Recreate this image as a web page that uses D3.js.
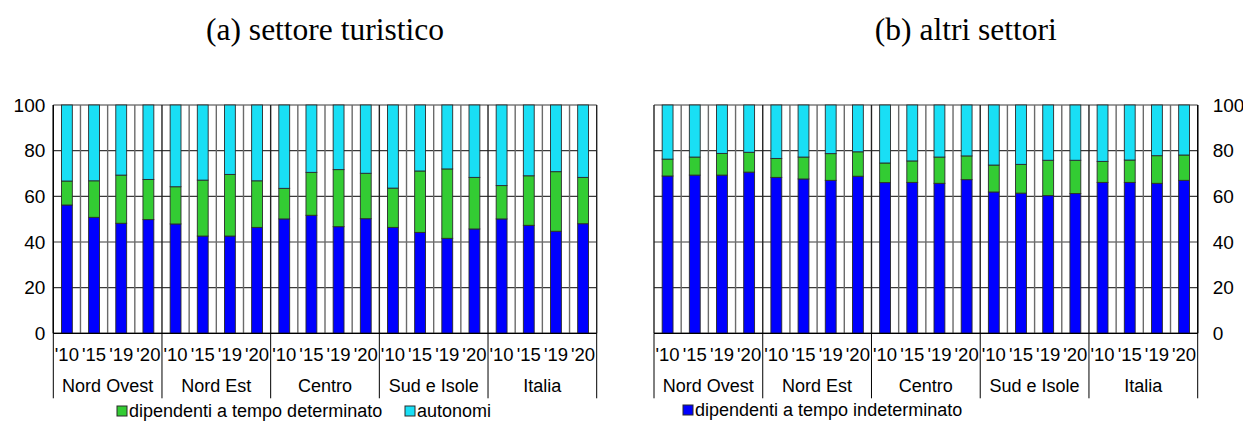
<!DOCTYPE html>
<html>
<head>
<meta charset="utf-8">
<script src="https://cdn.jsdelivr.net/npm/d3@7"></script>
<style>
  html, body { margin: 0; padding: 0; background: #fff; }
  svg { display: block; }
  text { font-family: "Liberation Sans", Arial, sans-serif; fill: #000; }
  .title { font-family: "Liberation Serif", "Times New Roman", serif; }
</style>
</head>
<body>
<svg id="chart" width="1243" height="421"></svg>
<script>
// Periods and areas (two-level category axis)
const years = ["'10", "'15", "'19", "'20"];
const regions = ["Nord Ovest", "Nord Est", "Centro", "Sud e Isole", "Italia"];
const yTicks = [0, 20, 40, 60, 80, 100];

// Series labels
const seriesNames = ["dipendenti a tempo indeterminato", "dipendenti a tempo determinato", "autonomi"];
const seriesColors = ["#0000ff", "#33cc33", "#19dff5"];

// (a) settore turistico — shares (%), region by region, years '10 '15 '19 '20
const turIndet = [56.2, 50.8, 48.2, 49.8, 47.9, 42.6, 42.6, 46.4, 50.1, 51.7, 46.7, 50.2, 46.4, 44.2, 41.6, 45.7, 50.1, 47.3, 44.7, 48.0];
const turDet   = [10.5, 16.0, 21.1, 17.6, 16.3, 24.5, 27.0, 20.4, 13.4, 18.8, 25.0, 19.9, 17.2, 26.9, 30.4, 22.6, 14.6, 21.7, 26.1, 20.3];
const turAuto  = [33.3, 33.2, 30.7, 32.6, 35.8, 32.9, 30.4, 33.2, 36.5, 29.5, 28.3, 29.9, 36.4, 28.9, 28.0, 31.7, 35.3, 31.0, 29.2, 31.7];

// (b) altri settori
const altIndet = [68.9, 69.3, 69.3, 70.6, 68.3, 67.6, 67.0, 68.8, 66.0, 66.1, 65.7, 67.3, 61.9, 61.4, 60.3, 61.2, 66.1, 66.1, 65.7, 67.0];
const altDet   = [7.4, 7.9, 9.5, 8.7, 8.3, 9.6, 11.7, 10.7, 8.6, 9.4, 11.5, 10.4, 11.8, 12.6, 15.5, 14.6, 9.2, 9.8, 12.1, 11.1];
const altAuto  = [23.7, 22.8, 21.2, 20.7, 23.4, 22.8, 21.3, 20.5, 25.4, 24.5, 22.8, 22.3, 26.3, 26.0, 24.2, 24.2, 24.7, 24.1, 22.2, 21.9];

const svg = d3.select("#chart");
const FS_TICK = 19;
const FS_YEAR = 18.5;
const FS_REGION = 18;
const FS_LEGEND = 18;

function buildRows(indet, det, auto) {
  const rows = [];
  regions.forEach((r, ri) => years.forEach((y, yi) => {
    const i = ri * years.length + yi;
    rows.push({ key: r + "|" + y, region: r, year: y, indet: indet[i], det: det[i], auto: auto[i] });
  }));
  return rows;
}

function drawPanel(opts) {
  const { x0, x1, y0, y1, rows, title, axisSide } = opts;
  const g = svg.append("g");

  const x = d3.scaleBand()
    .domain(rows.map(d => d.key))
    .range([x0, x1])
    .paddingInner(0.6)
    .paddingOuter(0.3);
  const step = x.step();
  const y = d3.scaleLinear().domain([0, 100]).range([y1, y0]);

  // horizontal gridlines
  g.append("g").selectAll("line").data(yTicks).join("line")
    .attr("x1", x0).attr("x2", x1)
    .attr("y1", d => y(d)).attr("y2", d => y(d))
    .attr("stroke", "#3a3a3a").attr("stroke-width", 1.2);

  // vertical gridlines at every category boundary
  const bounds = d3.range(rows.length + 1).map(i => x0 + i * step);
  g.append("g").selectAll("line").data(bounds).join("line")
    .attr("x1", d => d).attr("x2", d => d)
    .attr("y1", y0).attr("y2", y1)
    .attr("stroke", (d, i) => i % years.length === 0 ? "#222" : "#6a6a6a")
    .attr("stroke-width", 1.4);

  // stacked bars
  const stack = d3.stack().keys(["indet", "det", "auto"]);
  const layers = stack(rows);
  g.append("g").selectAll("g").data(layers).join("g")
    .attr("fill", (d, i) => seriesColors[i])
    .selectAll("rect").data(d => d).join("rect")
    .attr("x", d => x(d.data.key))
    .attr("width", x.bandwidth())
    .attr("y", d => y(d[1]))
    .attr("height", d => y(d[0]) - y(d[1]))
    .attr("stroke", "#2a2a2a").attr("stroke-width", 0.9);

  // y axis line and labels
  const axisX = axisSide === "left" ? x0 : x1;
  g.append("line")
    .attr("x1", axisX).attr("x2", axisX).attr("y1", y0).attr("y2", y1)
    .attr("stroke", "#000").attr("stroke-width", 1.2);
  const yAxis = axisSide === "left" ? d3.axisLeft(y) : d3.axisRight(y);
  const ya = g.append("g")
    .attr("transform", `translate(${axisX},0)`)
    .call(yAxis.tickValues(yTicks).tickSize(0).tickPadding(axisSide === "left" ? 8 : 15));
  ya.select(".domain").remove();
  ya.selectAll("text").style("font-size", FS_TICK + "px").style("font-family", "'Liberation Sans', Arial, sans-serif");

  // x axis line
  g.append("line")
    .attr("x1", x0).attr("x2", x1).attr("y1", y1).attr("y2", y1)
    .attr("stroke", "#000").attr("stroke-width", 1.2);

  // year labels
  g.append("g").selectAll("text").data(rows).join("text")
    .attr("x", d => x(d.key) + x.bandwidth() / 2)
    .attr("y", y1 + 28)
    .attr("text-anchor", "middle")
    .style("font-size", FS_YEAR + "px")
    .text(d => d.year);

  // region separators and labels
  const sepX = d3.range(regions.length + 1).map(i => x0 + i * years.length * step);
  g.append("g").selectAll("line").data(sepX).join("line")
    .attr("x1", d => d).attr("x2", d => d)
    .attr("y1", y1).attr("y2", y1 + 65)
    .attr("stroke", "#000").attr("stroke-width", 1);
  g.append("g").selectAll("text").data(regions).join("text")
    .attr("x", (d, i) => x0 + (i + 0.5) * years.length * step)
    .attr("y", y1 + 59)
    .attr("text-anchor", "middle")
    .style("font-size", FS_REGION + "px")
    .text(d => d);

  // panel title
  svg.append("text").attr("class", "title")
    .attr("x", (x0 + x1) / 2 + opts.titleDx)
    .attr("y", 40)
    .attr("text-anchor", "middle")
    .style("font-size", "31.5px")
    .text(title);
}

drawPanel({
  x0: 53.3, x1: 596.7, y0: 105, y1: 333.3,
  rows: buildRows(turIndet, turDet, turAuto),
  title: "(a) settore turistico", axisSide: "left", titleDx: 0
});
drawPanel({
  x0: 654, x1: 1197.7, y0: 105, y1: 333.3,
  rows: buildRows(altIndet, altDet, altAuto),
  title: "(b) altri settori", axisSide: "right", titleDx: 40
});

// legends
function legendItem(xPos, yPos, idx) {
  const lg = svg.append("g").attr("transform", `translate(${xPos},${yPos})`);
  lg.append("rect").attr("x", 0).attr("y", -11).attr("width", 10).attr("height", 10)
    .attr("fill", seriesColors[idx]).attr("stroke", "#2a2a2a").attr("stroke-width", 1);
  lg.append("text").attr("x", 12).attr("y", 0)
    .style("font-size", FS_LEGEND + "px").text(seriesNames[idx]);
}
legendItem(117, 417, 1);
legendItem(405, 417, 2);
legendItem(683, 416, 0);
</script>
</body>
</html>
